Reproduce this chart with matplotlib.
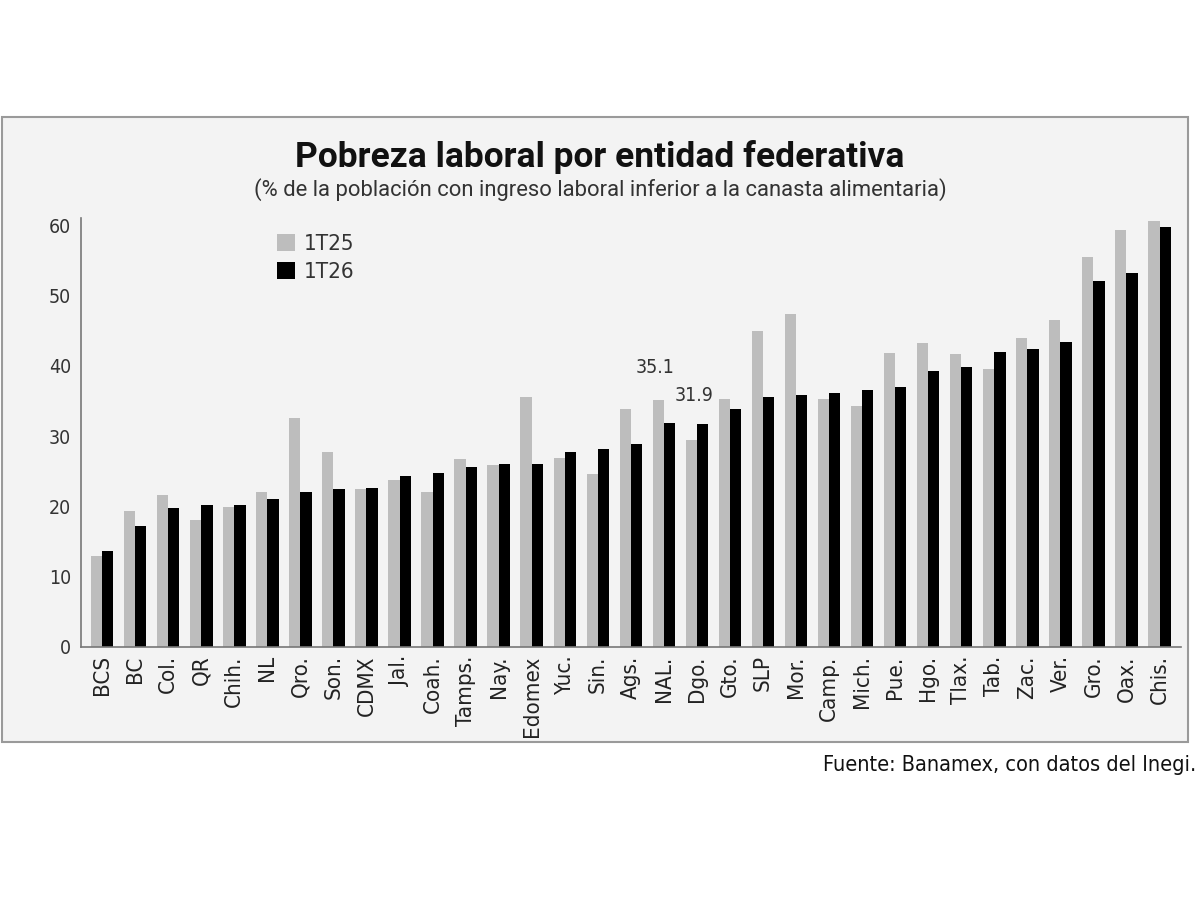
import matplotlib
matplotlib.use("Agg")
import matplotlib.pyplot as plt
from matplotlib.patches import Rectangle
import numpy as np

estados = ["BCS", "BC", "Col.", "QR", "Chih.", "NL", "Qro.", "Son.", "CDMX", "Jal.",
           "Coah.", "Tamps.", "Nay.", "Edomex", "Yuc.", "Sin.", "Ags.", "NAL.", "Dgo.",
           "Gto.", "SLP", "Mor.", "Camp.", "Mich.", "Pue.", "Hgo.", "Tlax.", "Tab.",
           "Zac.", "Ver.", "Gro.", "Oax.", "Chis."]
t25 = [13.0, 19.4, 21.6, 18.1, 19.9, 22.0, 32.6, 27.7, 22.4, 23.8,
       22.0, 26.7, 25.9, 35.6, 26.9, 24.6, 33.9, 35.1, 29.4,
       35.2, 44.9, 47.4, 35.2, 34.3, 41.8, 43.2, 41.7, 39.6,
       44.0, 46.5, 55.4, 59.3, 60.6]
t26 = [13.7, 17.2, 19.7, 20.2, 20.2, 21.1, 22.0, 22.4, 22.6, 24.3,
       24.7, 25.6, 26.0, 26.0, 27.7, 28.2, 28.9, 31.9, 31.7,
       33.9, 35.5, 35.9, 36.1, 36.5, 37.0, 39.2, 39.8, 42.0,
       42.4, 43.4, 52.0, 53.2, 59.7]
serie_labels = ["1T25", "1T26"]

plt.rcParams["font.family"] = "DejaVu Sans"
plt.rcParams["font.stretch"] = "condensed"

fig = plt.figure(figsize=(12, 9), dpi=100)
fig.patch.set_facecolor("white")
fig.patches.append(Rectangle((0.002, 1 - 742 / 900), 0.988, (742 - 117) / 900,
                             transform=fig.transFigure, facecolor="#f3f3f3",
                             edgecolor="#9a9a9a", linewidth=1.5, zorder=-5))

ax = fig.add_axes([81 / 1200, 1 - 647 / 900, 1100 / 1200, (647 - 218) / 900])
ax.set_facecolor("none")

x = np.arange(len(estados))
w = 0.34
ax.bar(x - w / 2, t25, w, color="#bdbdbd", label=serie_labels[0])
ax.bar(x + w / 2, t26, w, color="#000000", label=serie_labels[1])

# etiquetas del promedio nacional
nal = estados.index("NAL.")
ax.text(x[nal] - w / 2 - 0.1, t25[nal] + 3.3, f"{t25[nal]:.1f}", ha="center",
        va="bottom", fontsize=14, color="#333333")
ax.text(x[nal] + w / 2 + 0.75, t26[nal] + 2.5, f"{t26[nal]:.1f}", ha="center",
        va="bottom", fontsize=14, color="#333333")

ax.set_xlim(-0.64, len(estados) - 1 + 0.65)
ax.set_ylim(0, 61)
ax.set_yticks([0, 10, 20, 30, 40, 50, 60])
ax.set_xticks(x)
ax.set_xticklabels(estados, rotation=90, fontsize=16, color="#222222")
ax.tick_params(axis="y", length=0, labelsize=14, labelcolor="#333333", pad=7)
ax.tick_params(axis="x", length=0, pad=6)
for s in ["top", "right"]:
    ax.spines[s].set_visible(False)
for s in ["left", "bottom"]:
    ax.spines[s].set_color("#777777")
    ax.spines[s].set_linewidth(1.2)

leg = ax.legend(loc="upper left", bbox_to_anchor=(0.16, 1.01), frameon=False,
                handlelength=0.8, handleheight=0.8, handletextpad=0.4,
                labelspacing=0.35, prop={"size": 16})
for t in leg.get_texts():
    t.set_color("#333333")

fig.text(0.5, 1 - 157 / 900, "Pobreza laboral por entidad federativa", ha="center",
         va="center", fontsize=25.5, fontweight="bold", family="Roboto",
         fontstretch="normal", color="#111111")
fig.text(0.5, 1 - 190 / 900,
         "(% de la población con ingreso laboral inferior a la canasta alimentaria)",
         ha="center", va="center", fontsize=15.8, family="Roboto",
         fontstretch="normal", color="#333333")
fig.text(0.997, 1 - 765 / 900, "Fuente: Banamex, con datos del Inegi.", ha="right",
         va="center", fontsize=15.6, color="#111111")

fig.savefig("out.png", dpi=100)
